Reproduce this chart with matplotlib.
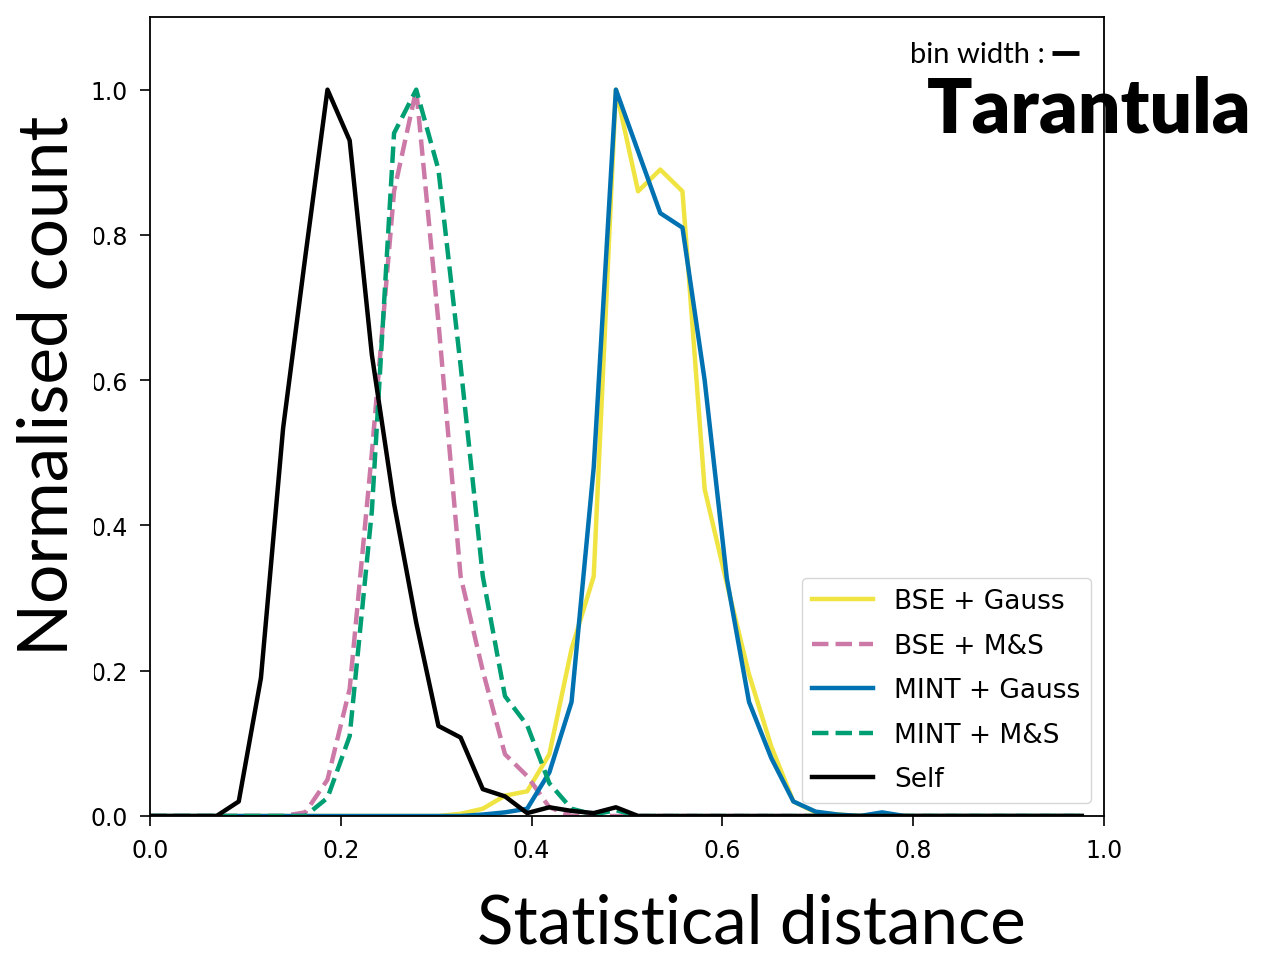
import numpy as np
import matplotlib
matplotlib.use("Agg")
import matplotlib.pyplot as plt
from matplotlib.patches import Rectangle

# bins of width 1/43, values plotted at the bin edges k/43
n_bins = 43
bin_width = 1.0 / n_bins

bse_gauss = [0, 0, 0, 0, 0, 0, 0, 0, 0, 0, 0, 0, 0, 0,
             0.003, 0.01, 0.028, 0.034, 0.085, 0.23, 0.33, 1.0, 0.86, 0.89, 0.86,
             0.45, 0.32, 0.195, 0.096, 0.02, 0.005, 0.002,
             0, 0, 0, 0, 0, 0, 0, 0, 0, 0, 0]
bse_ms = [0, 0, 0, 0, 0, 0, 0, 0.005, 0.05, 0.175, 0.5, 0.86, 1.0, 0.68,
          0.33, 0.2, 0.085, 0.055, 0.012, 0, 0, 0, 0, 0, 0,
          0, 0, 0, 0, 0, 0, 0,
          0, 0, 0, 0, 0, 0, 0, 0, 0, 0, 0]
mint_gauss = [0, 0, 0, 0, 0, 0, 0, 0, 0, 0, 0, 0, 0, 0,
              0, 0.002, 0.005, 0.01, 0.06, 0.157, 0.48, 1.0, 0.915, 0.83, 0.81,
              0.6, 0.327, 0.157, 0.08, 0.02, 0.006, 0.002,
              0, 0.005, 0, 0, 0, 0, 0, 0, 0, 0, 0]
mint_ms = [0, 0, 0, 0, 0, 0, 0, 0, 0.025, 0.11, 0.42, 0.94, 1.0, 0.89,
           0.62, 0.33, 0.165, 0.125, 0.045, 0.01, 0.002, 0.008, 0, 0, 0,
           0, 0, 0, 0, 0, 0, 0,
           0, 0, 0, 0, 0, 0, 0, 0, 0, 0, 0]
self_dist = [0, 0, 0, 0, 0.02, 0.19, 0.534, 0.77, 1.0, 0.93, 0.635, 0.43, 0.266, 0.124,
             0.108, 0.037, 0.027, 0.004, 0.012, 0.007, 0.004, 0.012, 0, 0, 0,
             0, 0, 0, 0, 0, 0, 0,
             0, 0, 0, 0, 0, 0, 0, 0, 0, 0, 0]

x = np.arange(n_bins) * bin_width

W, H = 1270, 954
fig = plt.figure(figsize=(W / 100, H / 100), dpi=100)
ax = fig.add_axes([150 / W, 1 - 817 / H, 954 / W, 799 / H])

lw = 3.2
ax.plot(x, bse_gauss, color="#F0E442", lw=lw, label="BSE + Gauss")
ax.plot(x, bse_ms, color="#CC79A7", lw=lw, ls="--", label="BSE + M&S")
ax.plot(x, mint_gauss, color="#0072B2", lw=lw, label="MINT + Gauss")
ax.plot(x, mint_ms, color="#009E73", lw=lw, ls="--", label="MINT + M&S")
ax.plot(x, self_dist, color="black", lw=lw, label="Self")

ax.set_xlim(0, 1.0)
ax.set_ylim(0, 1.1)
ax.set_xticks(np.arange(0, 1.01, 0.2))
ax.set_yticks(np.arange(0, 1.01, 0.2))
ax.tick_params(labelsize=17, length=7, width=1.2, pad=9)
for s in ax.spines.values():
    s.set_linewidth(1.3)

ax.legend(loc="lower right", fontsize=19, handlelength=2.3, labelspacing=0.7)

# white patch behind the big y label, it hides part of the tick labels
fig.add_artist(Rectangle((0, 1 - 695 / H), 94 / W, 590 / H, transform=fig.transFigure,
                         facecolor="white", edgecolor="none", zorder=4))
fig.text(48 / W, 1 - 386 / H, "Normalised count", family="Lato", fontsize=50,
         rotation=90, ha="center", va="center", zorder=5)
fig.text(751 / W, 1 - 944 / H, "Statistical distance", family="Lato",
         fontsize=48.5, ha="center", va="baseline")
fig.text(1089 / W, 1 - 133 / H, "Tarantula", family="Lato", fontweight="heavy",
         fontsize=54, ha="center", va="baseline")
fig.text(1045 / W, 1 - 63 / H, "bin width :", family="Lato", fontsize=21,
         ha="right", va="baseline")
ax.plot([0.9455, 0.9455 + bin_width * 1.2], [1.051, 1.051],
        color="black", lw=3.5, solid_capstyle="butt", clip_on=False)

fig.savefig("out.png", dpi=100)
